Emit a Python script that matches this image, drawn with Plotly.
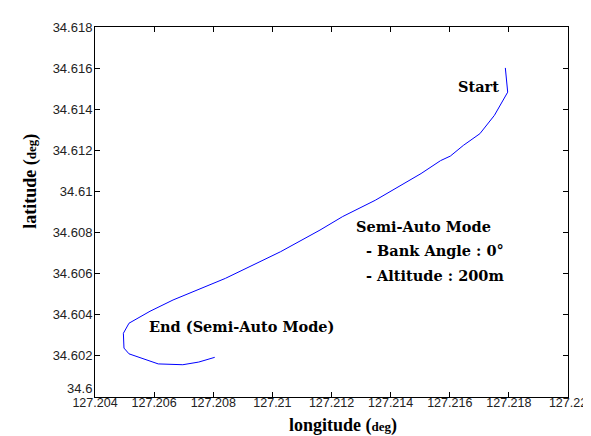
import plotly.graph_objects as go

lon = [127.21788, 127.21796, 127.21751, 127.21702, 127.21646, 127.21602, 127.21569,
       127.21503, 127.21348, 127.21238, 127.21161, 127.21028, 127.20841, 127.20664,
       127.20586, 127.20532, 127.20515, 127.20496, 127.20498, 127.20515, 127.20614,
       127.20697, 127.20751, 127.20805]
lat = [34.61601, 34.61483, 34.61370, 34.61281, 34.61224, 34.61172, 34.61150,
       34.61087, 34.60957, 34.60878, 34.60812, 34.60707, 34.60577, 34.60472,
       34.60417, 34.60375, 34.60359, 34.60310, 34.60238, 34.60210, 34.60161,
       34.60157, 34.60170, 34.60193]

x_ticks = [127.204, 127.206, 127.208, 127.21, 127.212, 127.214, 127.216, 127.218, 127.22]
x_tick_labels = ["127.204", "127.206", "127.208", "127.21", "127.212", "127.214", "127.216", "127.218", "127.22"]
y_ticks = [34.6, 34.602, 34.604, 34.606, 34.608, 34.61, 34.612, 34.614, 34.616, 34.618]
y_tick_labels = ["34.6<br> ", "34.602", "34.604", "34.606", "34.608", "34.61", "34.612", "34.614", "34.616", "34.618"]

serif = "DejaVu Serif"
title_serif = "Liberation Serif"
fig = go.Figure()
fig.add_trace(go.Scatter(x=lon, y=lat, mode="lines",
                         line=dict(color="#0000ff", width=1), hoverinfo="skip"))

def ann(x, y, text, xanchor="left", size=14.5):
    fig.add_annotation(x=x, y=y, xref="x", yref="y", text=text, showarrow=False,
                       xanchor=xanchor, yanchor="middle",
                       font=dict(family=serif, size=size, color="black"))

ann(127.21698, 34.61509, "<b>Start</b>", xanchor="center")
ann(127.21275, 34.60830, "<b>Semi-Auto Mode</b>")
ann(127.21292, 34.60713, "<b> - Bank Angle : 0°</b>")
ann(127.21292, 34.60592, "<b> - Altitude : 200m</b>")
ann(127.20576, 34.60344, "<b>End (Semi-Auto Mode)</b>")

# axis titles
fig.add_annotation(x=0.524, y=-0.078, xref="paper", yref="paper", showarrow=False,
                   xanchor="center", yanchor="middle",
                   text="<b>longitude (</b><span style='font-size:13px'><b>deg</b></span><b>)</b>",
                   font=dict(family=title_serif, size=18, color="black"))
fig.add_annotation(x=-0.135, y=0.582, xref="paper", yref="paper", showarrow=False,
                   xanchor="center", yanchor="middle", textangle=-90,
                   text="<b>latitude (</b><span style='font-size:13px'><b>deg</b></span><b>)</b>",
                   font=dict(family=title_serif, size=18, color="black"))

axis_common = dict(showline=True, linecolor="black", linewidth=1, mirror="ticks",
                   ticks="inside", ticklen=5, tickcolor="black", showgrid=False,
                   zeroline=False)

fig.update_xaxes(range=[127.204, 127.22], tickvals=x_ticks, ticktext=x_tick_labels,
                 ticklabeloverflow="allow", ticklabelstandoff=-6,
                 tickfont=dict(family="Liberation Sans", size=12.5, color="#222222"),
                 **axis_common)
fig.update_yaxes(range=[34.6, 34.618], tickvals=y_ticks, ticktext=y_tick_labels,
                 ticklabelstandoff=-1,
                 tickfont=dict(family="Liberation Sans", size=13, color="#222222"),
                 **axis_common)

fig.update_layout(width=591, height=436, margin=dict(l=87, r=21, t=18, b=47),
                  plot_bgcolor="white", paper_bgcolor="white", showlegend=False)

fig.write_html("out.html")
